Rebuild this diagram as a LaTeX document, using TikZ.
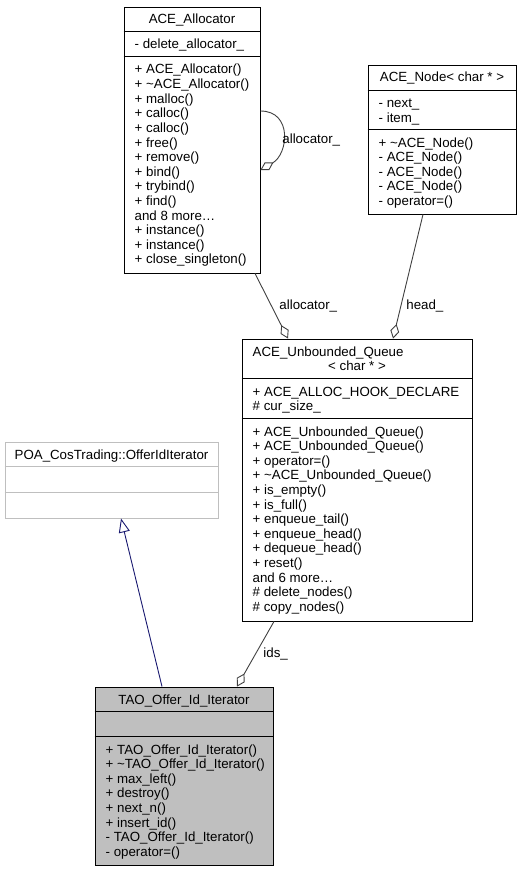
\documentclass[tikz,border=0pt]{standalone}
\usepackage{fontspec}
\setmainfont{Liberation Sans}
\usetikzlibrary{arrows.meta}

\definecolor{edgegray}{HTML}{404040}
\definecolor{inhblue}{HTML}{191970}
\definecolor{boxgray}{HTML}{BFBFBF}

\newcommand\classfont{\fontsize{13.3}{14.6}\selectfont}

\tikzset{
    classbox/.style={draw, rectangle, inner sep=0pt, line width=0.9pt},
    titletext/.style={anchor=base, inner sep=0pt, font=\classfont},
    membertext/.style={anchor=base west, inner sep=0pt, font=\classfont},
    edgelabel/.style={anchor=west, inner sep=0pt, font=\classfont},
    aggr/.style={draw=edgegray, line width=0.9pt,
        -{Diamond[open, length=15pt, width=9pt]}},
    inherit/.style={draw=inhblue, line width=0.9pt,
        -{Triangle[open, length=14pt, width=11pt]}},
}

\begin{document}
\begin{tikzpicture}[x=1pt, y=-1pt]

    \useasboundingbox (0,0) rectangle (521,872);

    % Class box ACE_Allocator
    \node[classbox,
        minimum width=136pt,
        minimum height=266pt] (alloc) at (192,140){};
    \draw[line width=0.9pt] ([yshift=-25pt]alloc.north west) -- ([yshift=-25pt]alloc.north east);
    \draw[line width=0.9pt] ([yshift=-50pt]alloc.north west) -- ([yshift=-50pt]alloc.north east);
    \node[titletext] (alloc_title) at (192,24) {ACE\_Allocator};
    \node[membertext] (alloc_attr) at (134.5,49) {- delete\_allocator\_};
    \foreach \m [count=\i from 0] in {+ ACE\_Allocator(), + \textasciitilde ACE\_Allocator(),
        + malloc(), + calloc(), + calloc(), + free(), + remove(), + bind(),
        + trybind(), + find(), and 8 more\dots, + instance(), + instance(),
        + close\_singleton()}
        \node[membertext] (alloc_m\i) at (134.5,{74+14.6*\i}) {\m};

    % Class box ACE_Node
    \node[classbox,
        minimum width=148pt,
        minimum height=149pt] (acenode) at (442,139.5){};
    \draw[line width=0.9pt] ([yshift=-26pt]acenode.north west) -- ([yshift=-26pt]acenode.north east);
    \draw[line width=0.9pt] ([yshift=-65pt]acenode.north west) -- ([yshift=-65pt]acenode.north east);
    \node[titletext] (acenode_title) at (442,82) {ACE\_Node< char * >};
    \foreach \m [count=\i from 0] in {- next\_, - item\_}
        \node[membertext] (acenode_a\i) at (378.5,{108+14.6*\i}) {\m};
    \foreach \m [count=\i from 0] in {+ \textasciitilde ACE\_Node(), - ACE\_Node(),
        - ACE\_Node(), - ACE\_Node(), - operator=()}
        \node[membertext] (acenode_m\i) at (378.5,{147+14.6*\i}) {\m};

    % Class box ACE_Unbounded_Queue
    \node[classbox,
        minimum width=230pt,
        minimum height=282pt] (queue) at (357,480){};
    \draw[line width=0.9pt] ([yshift=-40pt]queue.north west) -- ([yshift=-40pt]queue.north east);
    \draw[line width=0.9pt] ([yshift=-80pt]queue.north west) -- ([yshift=-80pt]queue.north east);
    \node[membertext] (queue_title) at (252.5,356) {ACE\_Unbounded\_Queue};
    \node[titletext] (queue_targ) at (357,370.6) {< char * >};
    \foreach \m [count=\i from 0] in {+ ACE\_ALLOC\_HOOK\_DECLARE, \# cur\_size\_}
        \node[membertext] (queue_a\i) at (252.5,{396+14.6*\i}) {\m};
    \foreach \m [count=\i from 0] in {+ ACE\_Unbounded\_Queue(), + ACE\_Unbounded\_Queue(),
        + operator=(), + \textasciitilde ACE\_Unbounded\_Queue(), + is\_empty(),
        + is\_full(), + enqueue\_tail(), + enqueue\_head(), + dequeue\_head(),
        + reset(), and 6 more\dots, \# delete\_nodes(), \# copy\_nodes()}
        \node[membertext] (queue_m\i) at (252.5,{436+14.6*\i}) {\m};

    % Class box POA_CosTrading::OfferIdIterator
    \node[classbox,
        draw=boxgray,
        minimum width=213pt,
        minimum height=76pt] (poa) at (111.5,480){};
    \draw[boxgray, line width=0.9pt] ([yshift=-25pt]poa.north west) -- ([yshift=-25pt]poa.north east);
    \draw[boxgray, line width=0.9pt] ([yshift=-51pt]poa.north west) -- ([yshift=-51pt]poa.north east);
    \node[titletext] (poa_title) at (111.5,459) {POA\_CosTrading::OfferIdIterator};

    % Class box TAO_Offer_Id_Iterator
    \node[classbox,
        fill=boxgray,
        minimum width=178pt,
        minimum height=178pt] (tao) at (184,776){};
    \draw[line width=0.9pt] ([yshift=-25pt]tao.north west) -- ([yshift=-25pt]tao.north east);
    \draw[line width=0.9pt] ([yshift=-50pt]tao.north west) -- ([yshift=-50pt]tao.north east);
    \node[titletext] (tao_title) at (184,704) {TAO\_Offer\_Id\_Iterator};
    \foreach \m [count=\i from 0] in {+ TAO\_Offer\_Id\_Iterator(),
        + \textasciitilde TAO\_Offer\_Id\_Iterator(), + max\_left(), + destroy(),
        + next\_n(), + insert\_id(), - TAO\_Offer\_Id\_Iterator(), - operator=()}
        \node[membertext] (tao_m\i) at (105.5,{754+14.6*\i}) {\m};

    % Connectors
    \draw[aggr] ([yshift=29pt]alloc.east) to[out=0, in=30, looseness=1.4]
        node[edgelabel, xshift=-1pt, yshift=-6pt] (self_lbl) {allocator\_} ([yshift=-30pt]alloc.east);
    \draw[aggr] ([xshift=63pt]alloc.south) --
        node[edgelabel, xshift=7.5pt] (alloc_lbl) {allocator\_} ([xshift=-69pt]queue.north);
    \draw[aggr] ([xshift=-19pt]acenode.south) --
        node[edgelabel, pos=0.736, xshift=5pt] (head_lbl) {head\_} ([xshift=36pt]queue.north);
    \draw[aggr] ([xshift=-83pt]queue.south) --
        node[edgelabel, xshift=7.5pt] (ids_lbl) {ids\_} ([xshift=53pt]tao.north);
    \draw[inherit] ([xshift=-22pt]tao.north) -- ([xshift=9.5pt]poa.south);

\end{tikzpicture}
\end{document}
